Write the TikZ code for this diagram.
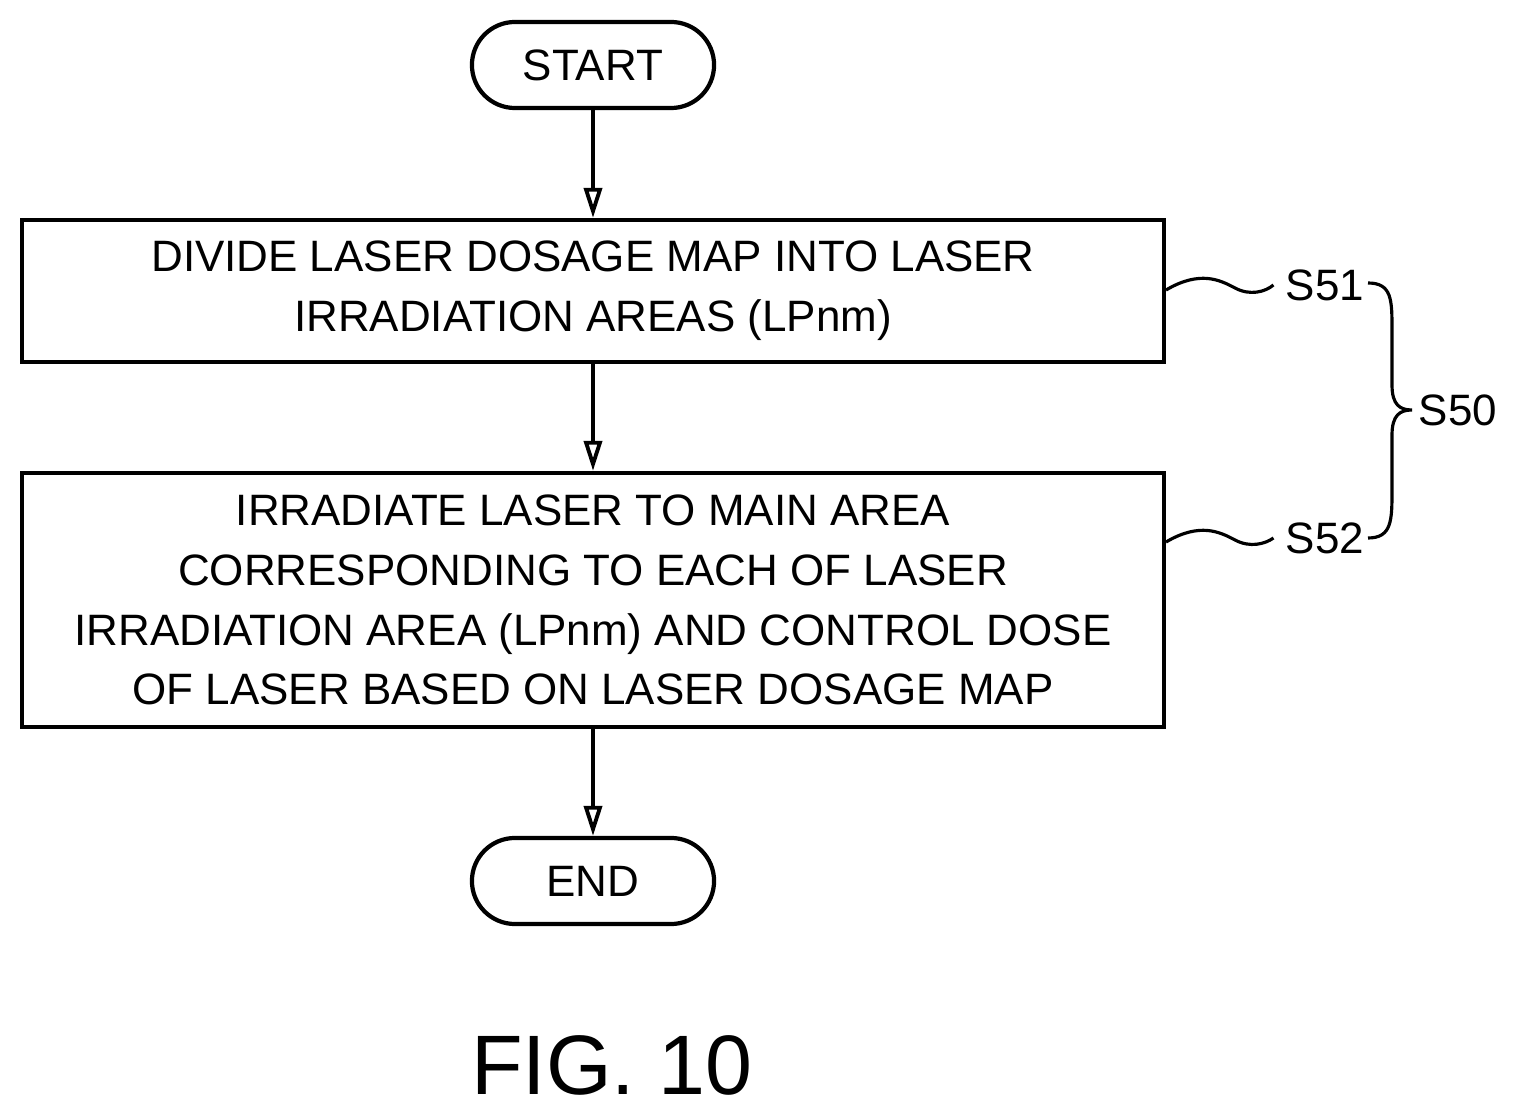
\documentclass[tikz,border=0pt]{standalone}
\usepackage{fontspec}
\setmainfont{Liberation Sans}
\usetikzlibrary{arrows.meta}
\begin{document}
\begin{tikzpicture}[x=0.01cm,y=-0.01cm,
  every node/.style={font=\fontsize{12.5pt}{17pt}\selectfont},
  term/.style={draw,line width=1.2pt,rounded corners=0.43cm,minimum width=2.42cm,minimum height=0.86cm,inner sep=0},
  box/.style={draw,line width=1.2pt,minimum width=11.42cm,align=center,inner sep=0},
  arr/.style={line width=1.1pt,-{Triangle[length=0.3cm,width=0.18cm,open,fill=white]}},
  thin/.style={line width=0.9pt}]
\useasboundingbox (0,0) rectangle (1521,1113);
\node[term] (start) at (593,65) {START};
\node[box,minimum height=1.42cm] (b1) at (593,291) {DIVIDE LASER DOSAGE MAP INTO LASER\\IRRADIATION AREAS (LPnm)};
\node[box,minimum height=2.54cm] (b2) at (593,600) {IRRADIATE LASER TO MAIN AREA\\CORRESPONDING TO EACH OF LASER\\IRRADIATION AREA (LPnm) AND CONTROL DOSE\\OF LASER BASED ON LASER DOSAGE MAP};
\node[term] (end) at (593,881) {END};
\draw[arr] (start) -- (b1);
\draw[arr] (b1) -- (b2);
\draw[arr] (b2) -- (end);
\node (s51) at (1325,285) {S51};
\node (s52) at (1325,538) {S52};
\node (s50) at (1458,410) {S50};
\coordinate (c1) at (1166,290);
\coordinate (c2) at (1166,542);
\draw[thin] (c1) .. controls (1200,270) and (1220,280) .. (1235,288) .. controls (1250,296) and (1265,292) .. (s51.west);
\draw[thin] (c2) .. controls (1200,522) and (1220,532) .. (1235,540) .. controls (1250,548) and (1265,544) .. (s52.west);
\coordinate (t) at (1368,283);
\coordinate (m) at (1412,410);
\coordinate (bt) at (1368,538);
\draw[thin] (t) .. controls (1392,283) and (1392,300) .. (1392,330) -- (1392,385) .. controls (1392,405) and (1400,410) .. (m)
  .. controls (1400,410) and (1392,415) .. (1392,435) -- (1392,490) .. controls (1392,520) and (1392,538) .. (bt);
\node[font=\fontsize{24pt}{28pt}\selectfont] (fig) at (612,1065) {FIG. 10};
\end{tikzpicture}
\end{document}
